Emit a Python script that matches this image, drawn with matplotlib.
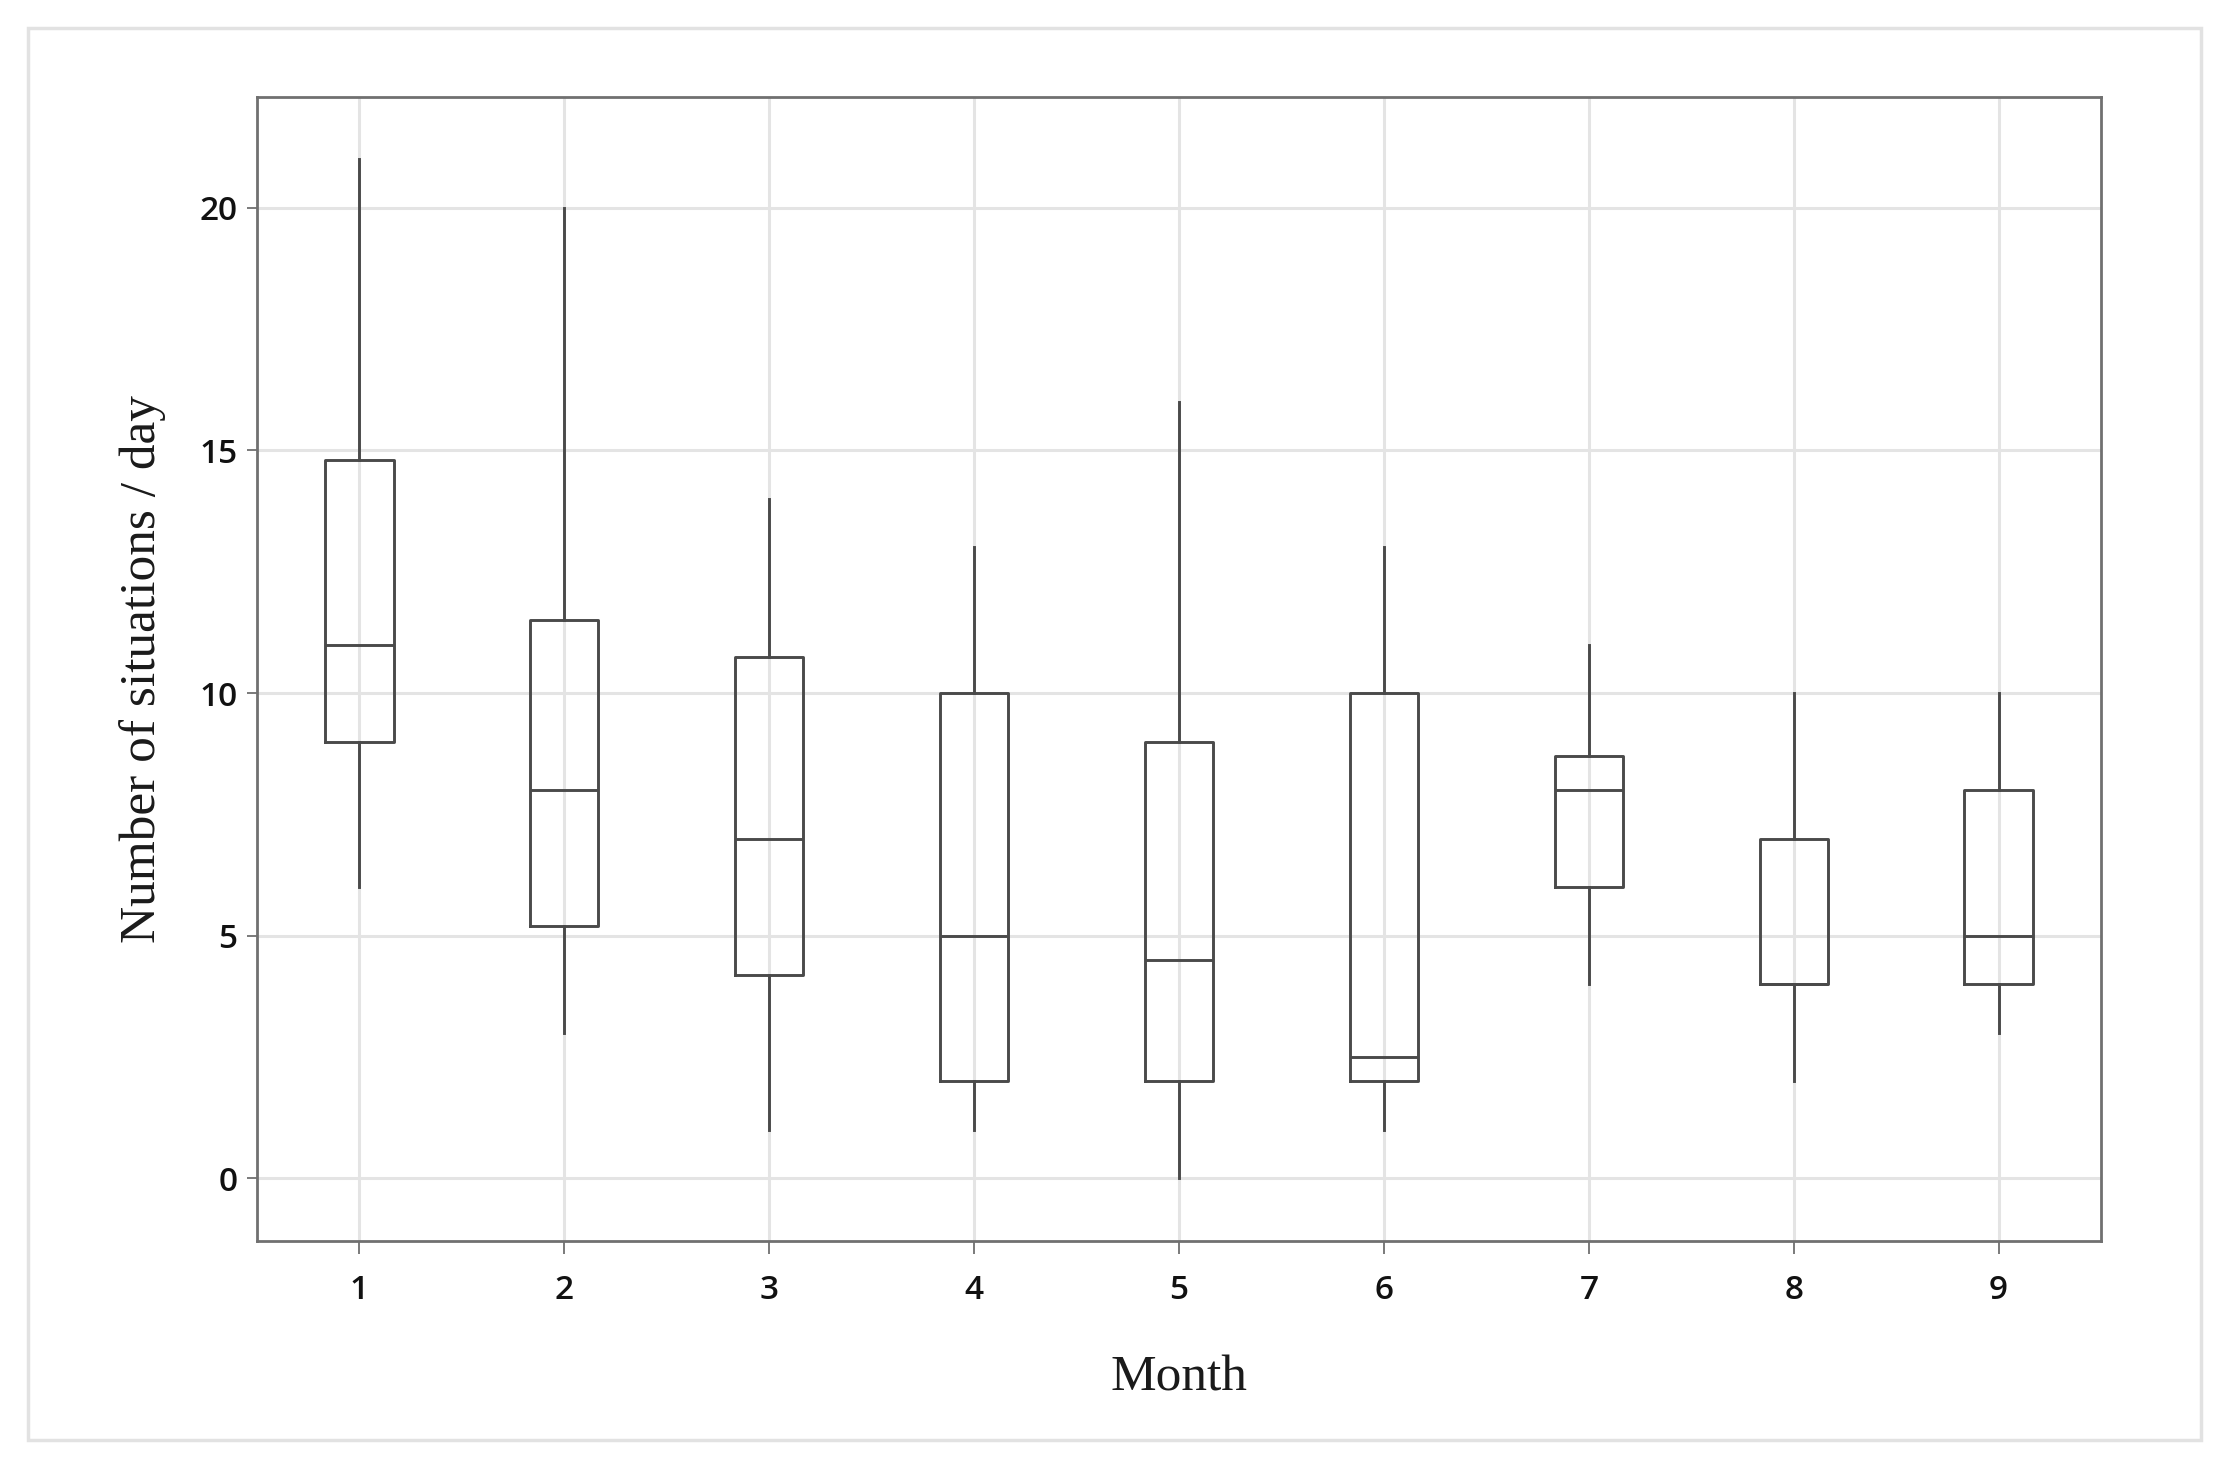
import numpy as np
import matplotlib.pyplot as plt
from matplotlib.patches import Rectangle

# Box plot data per month
months = [1, 2, 3, 4, 5, 6, 7, 8, 9]
whis_lo = [6, 3, 1, 1, 0, 1, 4, 2, 3]
q1 = [9, 5.2, 4.2, 2, 2, 2, 6, 4, 4]
med = [11, 8, 7, 5, 4.5, 2.5, 8, 4, 5]
q3 = [14.8, 11.5, 10.75, 10, 9, 10, 8.7, 7, 8]
whis_hi = [21, 20, 14, 13, 16, 13, 11, 10, 10]

yticks = [0, 5, 10, 15, 20]

box_col = '#4a4a4a'
spine_col = '#707070'
grid_col = '#e4e4e4'

fig = plt.figure(figsize=(22.29, 14.72), dpi=100)
fig.patches.append(Rectangle((28 / 2229, 1 - 1440 / 1472), (2201 - 28) / 2229, (1440 - 28) / 1472,
                             transform=fig.transFigure, fill=False, edgecolor='#e2e2e2', linewidth=2.5))

ax = fig.add_axes([0.1153, 0.1569, 0.9426 - 0.1153, 0.9341 - 0.1569])

stats = []
for i in range(len(months)):
    stats.append({'label': str(months[i]), 'whislo': whis_lo[i], 'q1': q1[i], 'med': med[i],
                  'q3': q3[i], 'whishi': whis_hi[i], 'fliers': []})

line = dict(color=box_col, linewidth=2.1)
ax.bxp(stats, positions=months, widths=0.333, showcaps=False, showfliers=False,
       boxprops=line, whiskerprops=line, medianprops=line, zorder=3)

ax.set_xlim(0.5, 9.5)
ax.set_ylim(-1.29, 22.28)
ax.set_yticks(yticks)
ax.set_xticks(months)
ax.set_xticklabels([str(m) for m in months])

ax.grid(True, color=grid_col, linewidth=2.2, zorder=0)
ax.set_axisbelow(True)

for s in ax.spines.values():
    s.set_color(spine_col)
    s.set_linewidth(2.0)

ax.tick_params(axis='x', length=9, width=1.3, color=spine_col, pad=15, labelsize=24)
ax.tick_params(axis='y', length=7, width=1.3, color=spine_col, pad=7, labelsize=24)
for lab in ax.get_xticklabels() + ax.get_yticklabels():
    lab.set_family('Open Sans')
    lab.set_weight('semibold')
    lab.set_color('#111111')

ax.set_xlabel('Month', family='Liberation Serif', fontsize=37, color='#1a1a1a', labelpad=34)
ax.set_ylabel('Number of situations / day', family='Liberation Serif', fontsize=37,
              color='#1a1a1a', labelpad=24)

fig.savefig('out.png', dpi=100)
